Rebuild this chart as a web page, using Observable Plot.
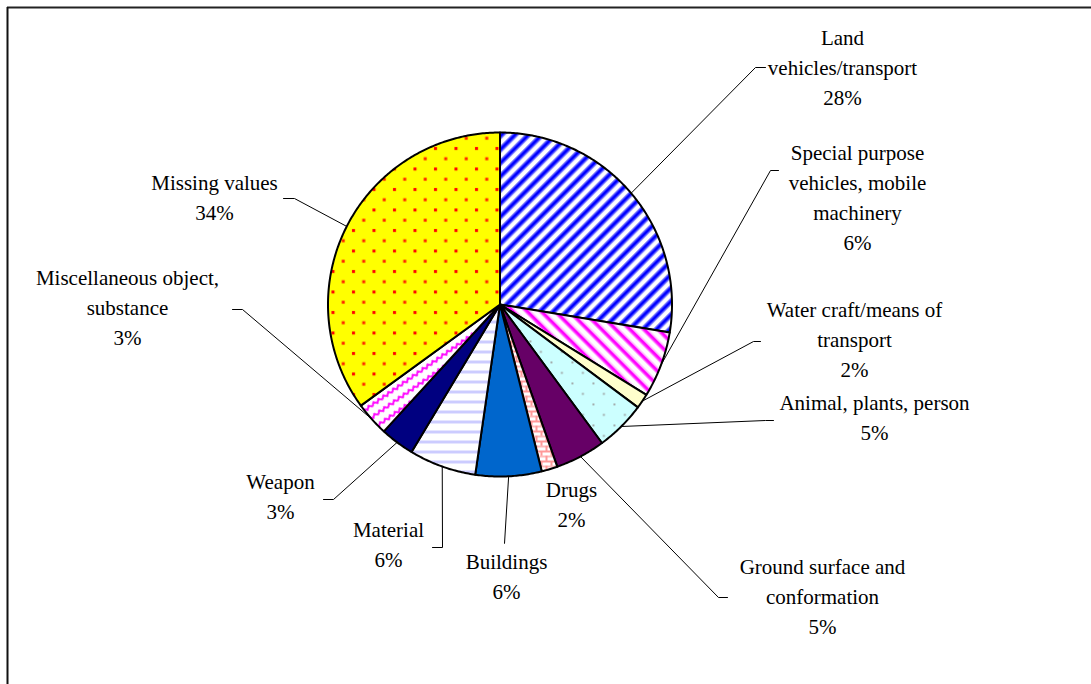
<!DOCTYPE html>
<html><head><meta charset="utf-8">
<script src="https://cdn.jsdelivr.net/npm/d3@7"></script>
<script src="https://cdn.jsdelivr.net/npm/@observablehq/plot@0.6"></script>
<style>html,body{margin:0;padding:0;background:#fff;} #chart svg{display:block}</style>
</head><body><div id="chart"></div>
<script>
// ---- data ----
const categories = [
  "Land\nvehicles/transport",
  "Special purpose\nvehicles, mobile\nmachinery",
  "Water craft/means of\ntransport",
  "Animal, plants, person",
  "Ground surface and\nconformation",
  "Drugs",
  "Buildings",
  "Material",
  "Weapon",
  "Miscellaneous object,\nsubstance",
  "Missing values"
];
const shares = [27.6, 6.2, 1.4, 4.7, 4.7, 1.5, 6.2, 6.3, 3.2, 3.2, 35.0];
const percentLabels = ["28%", "6%", "2%", "5%", "5%", "2%", "6%", "6%", "3%", "3%", "34%"];

// ---- style ----
const patternIds = ["p-land", "p-special", "p-water", "p-animal", "p-ground", "p-drugs", "p-build", "p-material", "p-weapon", "p-misc", "p-missing"];

// ---- layout ----
const W = 1091, H = 684;
const center = {x: 499.5, y: 304}, radius = 172;
const labelLayout = [
  {x: 842, y: 65,  elbow: [755, 67],  end: [765, 67]},
  {x: 857, y: 195, elbow: [770, 170], end: [778, 170]},
  {x: 854, y: 337, elbow: [753, 341], end: [760, 341]},
  {x: 874, y: 415, elbow: [765, 420], end: [773, 420]},
  {x: 822, y: 594, elbow: [718, 597], end: [727, 597]},
  {x: 571, y: 502, elbow: null, end: null},
  {x: 506, y: 574, elbow: [504, 543], end: [504, 543]},
  {x: 388, y: 542, elbow: [442, 547], end: [432, 547]},
  {x: 280, y: 494, elbow: [333, 499], end: [323, 499]},
  {x: 127, y: 305, elbow: [242, 309], end: [232, 309]},
  {x: 214, y: 195, elbow: [294, 198], end: [283, 198]}
];

const arcs = d3.pie().sort(null).value(d => d)(shares);
const polar = (a, r) => ({x: center.x + r * Math.sin(a), y: center.y - r * Math.cos(a)});

const sliceMarks = arcs.map((a, i) => {
  const n = Math.max(2, Math.ceil((a.endAngle - a.startAngle) / 0.01));
  const pts = [{...center}];
  for (let k = 0; k <= n; k++) pts.push(polar(a.startAngle + (a.endAngle - a.startAngle) * k / n, radius));
  pts.push({...center});
  return Plot.line(pts, {x: "x", y: "y", fill: `url(#${patternIds[i]})`, stroke: "#000", strokeWidth: 2, strokeLinejoin: "round"});
});

const leaderPts = arcs.flatMap((a, i) => {
  const L = labelLayout[i];
  if (!L.elbow) return [];
  const s = polar((a.startAngle + a.endAngle) / 2, radius);
  return [{i, ...s}, {i, x: L.elbow[0], y: L.elbow[1]}, {i, x: L.end[0], y: L.end[1]}];
});

const labelRows = categories.map((c, i) => ({x: labelLayout[i].x, y: labelLayout[i].y, text: c + "\n" + percentLabels[i]}));

const plot = Plot.plot({
  width: W, height: H,
  margin: 0,
  x: {domain: [0, W], range: [0, W], axis: null},
  y: {domain: [0, H], range: [0, H], axis: null},
  style: {fontFamily: "'Liberation Serif', 'Times New Roman', serif", background: "#fff", color: "#000"},
  marks: [
    Plot.ruleY([{y: 7, x1: 7, x2: W}], {y: "y", x1: "x1", x2: "x2", stroke: "#222", strokeWidth: 2}),
    Plot.ruleX([{x: 7, y1: 7, y2: H}], {x: "x", y1: "y1", y2: "y2", stroke: "#111", strokeWidth: 2}),
    ...sliceMarks,
    Plot.line(leaderPts, {x: "x", y: "y", z: "i", stroke: "#000", strokeWidth: 1}),
    Plot.text(labelRows, {x: "x", y: "y", text: "text", fontSize: 21, lineHeight: 1.43, textAnchor: "middle", fill: "#000", fontFamily: "'Liberation Serif', serif"})
  ]
});

const defs = `
<defs>
 <pattern id="p-land" patternUnits="userSpaceOnUse" width="9.5" height="9.5" patternTransform="rotate(45)">
  <rect width="9.5" height="9.5" fill="#fff"/>
  <rect x="0" width="1.2" height="9.5" fill="#8a8aff"/>
  <rect x="1.2" width="3.4" height="9.5" fill="#0000ff"/>
  <rect x="4.6" width="1.2" height="9.5" fill="#8a8aff"/>
 </pattern>
 <pattern id="p-special" patternUnits="userSpaceOnUse" width="10" height="10" patternTransform="rotate(-45)">
  <rect width="10" height="10" fill="#fff"/>
  <rect x="0" width="1.2" height="10" fill="#ff9aff"/>
  <rect x="1.2" width="3" height="10" fill="#ff00ff"/>
  <rect x="4.2" width="1.2" height="10" fill="#ff9aff"/>
 </pattern>
 <pattern id="p-water" patternUnits="userSpaceOnUse" width="10" height="10">
  <rect width="10" height="10" fill="#ffffcc"/>
 </pattern>
 <pattern id="p-animal" patternUnits="userSpaceOnUse" width="21" height="21">
  <rect width="21" height="21" fill="#ccffff"/>
  <rect x="4" y="4" width="1.8" height="1.8" fill="#999"/>
  <rect x="14.5" y="14.5" width="1.8" height="1.8" fill="#999"/>
 </pattern>
 <pattern id="p-ground" patternUnits="userSpaceOnUse" width="10" height="10">
  <rect width="10" height="10" fill="#660066"/>
 </pattern>
 <pattern id="p-drugs" patternUnits="userSpaceOnUse" width="10" height="10">
  <rect width="10" height="10" fill="#fff"/>
  <rect x="0" y="0" width="10" height="2" fill="#ff9999"/>
  <rect x="0" y="0" width="2" height="5" fill="#ff9999"/>
  <rect x="0" y="5" width="10" height="2" fill="#ffbbbb"/>
  <rect x="5" y="5" width="2" height="5" fill="#ff9999"/>
 </pattern>
 <pattern id="p-build" patternUnits="userSpaceOnUse" width="10" height="10">
  <rect width="10" height="10" fill="#0066cc"/>
 </pattern>
 <pattern id="p-material" patternUnits="userSpaceOnUse" width="10" height="10">
  <rect width="10" height="10" fill="#fff"/>
  <rect y="0" width="10" height="3" fill="#ccccff"/>
 </pattern>
 <pattern id="p-weapon" patternUnits="userSpaceOnUse" width="10" height="10">
  <rect width="10" height="10" fill="#000080"/>
 </pattern>
 <pattern id="p-misc" patternUnits="userSpaceOnUse" width="12" height="10" patternTransform="rotate(-35)">
  <rect width="12" height="10" fill="#fff"/>
  <path d="M0,6 L3,3 L6,6 L9,3 L12,6" fill="none" stroke="#ff00ff" stroke-width="1.8"/>
 </pattern>
 <pattern id="p-missing" patternUnits="userSpaceOnUse" width="20.5" height="20.5">
  <rect width="20.5" height="20.5" fill="#ffff00"/>
  <rect x="3" y="3" width="3" height="3" fill="#ff0000"/>
  <rect x="13.25" y="13.25" width="3" height="3" fill="#ff2200"/>
 </pattern>
</defs>`;
const tmp = document.createElementNS("http://www.w3.org/2000/svg", "svg");
tmp.innerHTML = defs;
plot.prepend(tmp.firstElementChild);
document.getElementById("chart").appendChild(plot);
</script>
</body></html>
